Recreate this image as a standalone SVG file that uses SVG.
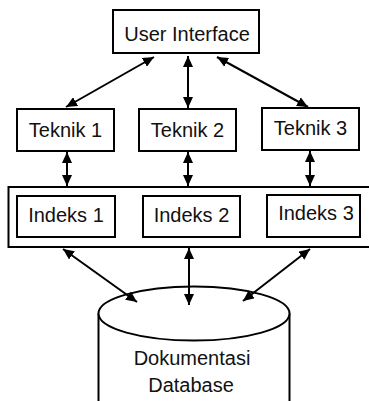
<svg xmlns="http://www.w3.org/2000/svg" width="369" height="401" viewBox="0 0 369 401">
  <style>
    .box { fill: #fff; stroke: #000; stroke-width: 2; }
    .lbl { font-family: "Liberation Sans", Arial, sans-serif; font-size: 20px; fill: #111; text-anchor: middle; }
    .conn { stroke: #000; stroke-width: 2; fill: none; marker-start: url(#arrow); marker-end: url(#arrow); }
  </style>
  <defs>
    <marker id="arrow" markerUnits="userSpaceOnUse" markerWidth="11" markerHeight="10" refX="11" refY="5" orient="auto-start-reverse">
      <path d="M0,0 L11,5 L0,10 z" fill="#000"/>
    </marker>
  </defs>
  <rect width="369" height="401" fill="#fff"/>

  <!-- top-level interface -->
  <g id="user-interface">
    <rect class="box" x="113" y="10" width="146" height="43"/>
    <text class="lbl" x="187" y="40.5">User Interface</text>
  </g>

  <!-- techniques -->
  <g id="teknik-1">
    <rect class="box" x="17" y="109" width="97" height="42"/>
    <text class="lbl" x="65.5" y="136.5">Teknik 1</text>
  </g>
  <g id="teknik-2">
    <rect class="box" x="139" y="109" width="97" height="42"/>
    <text class="lbl" x="187.5" y="136.5">Teknik 2</text>
  </g>
  <g id="teknik-3">
    <rect class="box" x="262" y="108" width="97" height="42"/>
    <text class="lbl" x="310.5" y="135">Teknik 3</text>
  </g>

  <!-- index layer -->
  <g id="index-layer">
    <rect class="box" x="8.5" y="187" width="400" height="60"/>
  </g>
  <g id="indeks-1">
    <rect class="box" x="17" y="196" width="98" height="41"/>
    <text class="lbl" x="66" y="222">Indeks 1</text>
  </g>
  <g id="indeks-2">
    <rect class="box" x="143" y="196" width="97" height="41"/>
    <text class="lbl" x="191.5" y="222">Indeks 2</text>
  </g>
  <g id="indeks-3">
    <rect class="box" x="267" y="195" width="93" height="42"/>
    <text class="lbl" x="316" y="219.5">Indeks 3</text>
  </g>

  <!-- document database cylinder -->
  <g id="database">
    <path class="box" d="M98.5,313.5 L98.5,405 L289.5,405 L289.5,313.5"/>
    <ellipse class="box" cx="194" cy="313.5" rx="95.5" ry="27"/>
    <text class="lbl" x="192" y="365">Dokumentasi</text>
    <text class="lbl" x="191" y="391.5">Database</text>
  </g>

  <!-- connectors -->
  <g id="connectors">
    <line class="conn" x1="66" y1="107" x2="154" y2="57"/>
    <line class="conn" x1="188" y1="108" x2="188" y2="56"/>
    <line class="conn" x1="308" y1="107" x2="217" y2="57"/>
    <line class="conn" x1="67" y1="152" x2="67" y2="186"/>
    <line class="conn" x1="188" y1="152" x2="188" y2="186"/>
    <line class="conn" x1="310" y1="151" x2="310" y2="186"/>
    <line class="conn" x1="63" y1="249" x2="137" y2="302"/>
    <line class="conn" x1="189" y1="248" x2="189" y2="305"/>
    <line class="conn" x1="310" y1="249" x2="243" y2="301"/>
  </g>
</svg>
